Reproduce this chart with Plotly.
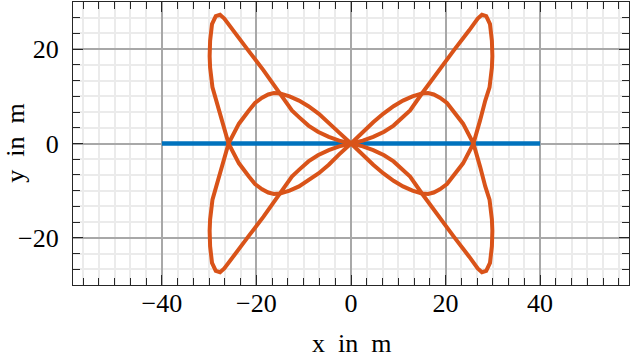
import plotly.graph_objects as go

# reference line (blue)
ref_x = [-40, 40]
ref_y = [0, 0]

# loop 1: origin -> top-right tip -> (26,0) -> lower-right arc -> origin
#         -> upper-left arc -> (-26,0) -> bottom-left tip -> origin
loop1_x = [0, 2.5, 4.7, 7.0, 9.0, 11.0, 12.5, 15.0, 18.5, 21.7, 25.0, 26.8, 27.7, 28.6,
           29.4, 29.8, 29.9, 29.8, 29.3, 28.4, 27.3, 25.9,
           23.7, 21.6, 20.3, 18.8, 17.5, 16.3, 15.0, 13.0, 11.0, 9.0, 6.8, 4.7, 2.5, 0,
           -2.5, -4.7, -6.8, -9.0, -11.0, -13.0, -15.0, -16.3, -17.5, -18.8, -20.3, -21.6, -23.7, -25.9,
           -27.3, -28.4, -29.3, -29.8, -29.9, -29.8, -29.4, -28.6, -27.7, -26.8, -25.0, -21.7,
           -18.5, -15.0, -12.5, -11.0, -9.0, -7.0, -4.7, -2.5, 0]
loop1_y = [0, 0.6, 1.4, 2.5, 3.8, 5.6, 7.0, 10.6, 15.5, 19.7, 24.0, 26.5, 27.3, 27.0,
           25.3, 21.8, 18.5, 16.1, 11.9, 9.1, 4.9, 0,
           -4.2, -7.0, -8.6, -9.7, -10.4, -10.7, -10.6, -10.0, -9.1, -7.9, -6.3, -4.5, -2.3, 0,
           2.3, 4.5, 6.3, 7.9, 9.1, 10.0, 10.6, 10.7, 10.4, 9.7, 8.6, 7.0, 4.2, 0,
           -4.9, -9.1, -11.9, -16.1, -18.5, -21.8, -25.3, -27.0, -27.3, -26.5, -24.0, -19.7,
           -15.5, -10.6, -7.0, -5.6, -3.8, -2.5, -1.4, -0.6, 0]

# loop 2: origin -> bottom-right tip -> (26,0) -> upper-right arc -> origin
#         -> lower-left arc -> (-26,0) -> top-left tip -> origin
loop2_x = [0, 2.5, 4.7, 7.0, 9.0, 11.0, 12.5, 15.0, 18.5, 21.7, 25.0, 26.8, 27.7, 28.6,
           29.4, 29.8, 29.9, 29.8, 29.3, 28.4, 27.3, 25.9,
           23.7, 21.6, 20.3, 18.8, 17.5, 16.3, 15.0, 13.0, 11.0, 9.0, 6.8, 4.7, 2.5, 0,
           -2.5, -4.7, -6.8, -9.0, -11.0, -13.0, -15.0, -16.3, -17.5, -18.8, -20.3, -21.6, -23.7, -25.9,
           -27.3, -28.4, -29.3, -29.8, -29.9, -29.8, -29.4, -28.6, -27.7, -26.8, -25.0, -21.7,
           -18.5, -15.0, -12.5, -11.0, -9.0, -7.0, -4.7, -2.5, 0]
loop2_y = [0, -0.6, -1.4, -2.5, -3.8, -5.6, -7.0, -10.6, -15.5, -19.7, -24.0, -26.5, -27.3, -27.0,
           -25.3, -21.8, -18.5, -16.1, -11.9, -9.1, -4.9, 0,
           4.2, 7.0, 8.6, 9.7, 10.4, 10.7, 10.6, 10.0, 9.1, 7.9, 6.3, 4.5, 2.3, 0,
           -2.3, -4.5, -6.3, -7.9, -9.1, -10.0, -10.6, -10.7, -10.4, -9.7, -8.6, -7.0, -4.2, 0,
           4.9, 9.1, 11.9, 16.1, 18.5, 21.8, 25.3, 27.0, 27.3, 26.5, 24.0, 19.7,
           15.5, 10.6, 7.0, 5.6, 3.8, 2.5, 1.4, 0.6, 0]

BLUE = '#0072BD'
ORANGE = '#D95319'
FONT = 'Liberation Serif'
TEXT = dict(family=FONT, size=26, color='black')

fig = go.Figure()
fig.add_trace(go.Scatter(x=ref_x, y=ref_y, mode='lines',
                         line=dict(color=BLUE, width=4.5), showlegend=False))
fig.add_trace(go.Scatter(x=loop1_x, y=loop1_y, mode='lines',
                         line=dict(color=ORANGE, width=4), showlegend=False))
fig.add_trace(go.Scatter(x=loop2_x, y=loop2_y, mode='lines',
                         line=dict(color=ORANGE, width=4), showlegend=False))

axis_common = dict(
    automargin=False,
    showline=True, linecolor='#262626', linewidth=1.3, mirror='ticks',
    ticks='inside', ticklen=10, tickwidth=1, tickcolor='#262626',
    dtick=20, tick0=0, zeroline=False,
    showgrid=True, gridcolor='#a8a8a8', gridwidth=1.5,
    minor=dict(dtick=20 / 6, tick0=0, ticks='inside', ticklen=7, tickwidth=1,
               tickcolor='#262626', showgrid=True, gridcolor='#ebebeb', gridwidth=1.5),
    tickfont=TEXT,
)

fig.update_xaxes(range=[-58.8, 58.8], ticklabelstandoff=-5, **axis_common)
fig.update_yaxes(range=[-30, 30], ticklabelstandoff=8, **axis_common)

# axis titles placed as annotations (plot area: x 73..629 px, y 2..285 px)
fig.add_annotation(text='x\u2002in\u2002m', xref='paper', yref='paper', x=0.5, y=-0.208,
                   xanchor='center', yanchor='middle', showarrow=False, font=TEXT)
fig.add_annotation(text='y\u2002in\u2002m', xref='paper', yref='paper', x=-0.104, y=0.5,
                   xanchor='center', yanchor='middle', textangle=-90, showarrow=False, font=TEXT)

fig.update_layout(width=630, height=352, margin=dict(l=73, r=1, t=2, b=67),
                  paper_bgcolor='white', plot_bgcolor='white')

fig.write_html('out.html', config={'displayModeBar': False},
               post_script="document.body.style.margin='0';")
